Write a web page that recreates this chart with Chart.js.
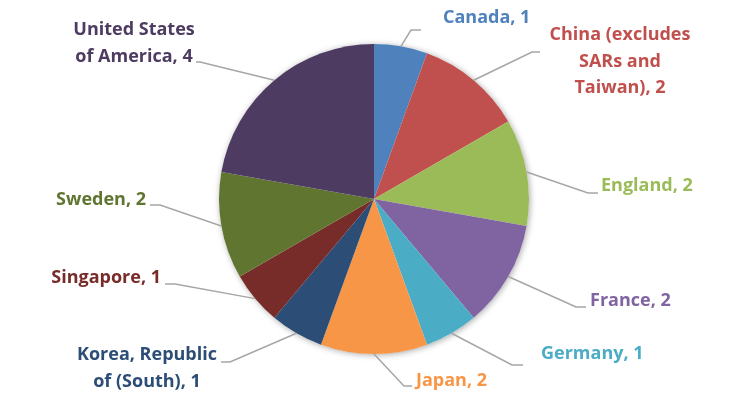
<!DOCTYPE html>
<html>
<head>
<meta charset="utf-8">
<script src="https://cdn.jsdelivr.net/npm/chart.js@4"></script>
<style>
  html, body { margin: 0; padding: 0; background: #fff; }
  #wrap { width: 733px; height: 402px; }
</style>
</head>
<body>
<div id="wrap"><canvas id="pie"></canvas></div>
<script>
// Chart data
const countries = [
  "Canada",
  "China (excludes SARs and Taiwan)",
  "England",
  "France",
  "Germany",
  "Japan",
  "Korea, Republic of (South)",
  "Singapore",
  "Sweden",
  "United States of America",
];
const counts = [1, 2, 2, 2, 1, 2, 1, 1, 2, 4];
const sliceColors = [
  "#4F81BD", "#C0504D", "#9BBB59", "#8064A2", "#4BACC6",
  "#F79646", "#2C4D75", "#772C2A", "#5F7530", "#4D3B62",
];

// Label placement: text lines, text anchor, leader elbow and leader end
const labelLayout = [
  { lines: ["Canada, 1"], x: 443, y: 18, align: "left", elbow: [411, 30], end: [421, 30] },
  { lines: ["China (excludes", "SARs and", "Taiwan), 2"], x: 620, y: 35, align: "center", elbow: [532, 52], end: [540, 52] },
  { lines: ["England, 2"], x: 601, y: 186, align: "left", elbow: [588, 193], end: [598, 193] },
  { lines: ["France, 2"], x: 590, y: 301, align: "left", elbow: [576, 307], end: [586, 307] },
  { lines: ["Germany, 1"], x: 541, y: 354, align: "left", elbow: [512, 365], end: [523, 365] },
  { lines: ["Japan, 2"], x: 416, y: 381, align: "left", elbow: [404, 386], end: [412, 386] },
  { lines: ["Korea, Republic", "of (South), 1"], x: 147, y: 355, align: "center", elbow: [230, 362], end: [221, 362] },
  { lines: ["Singapore, 1"], x: 161, y: 278, align: "right", elbow: [175, 284], end: [165, 284] },
  { lines: ["Sweden, 2"], x: 146, y: 200, align: "right", elbow: [160, 205], end: [150, 205] },
  { lines: ["United States", "of America, 4"], x: 134, y: 30, align: "center", elbow: [200, 62], end: [196, 62] },
];

// soft shadow behind the pie
const pieShadow = {
  id: "pieShadow",
  beforeDatasetsDraw(chart) {
    const arc = chart.getDatasetMeta(0).data[0];
    if (!arc) return;
    const { x, y, outerRadius } = arc.getProps(["x", "y", "outerRadius"], true);
    const ctx = chart.ctx;
    ctx.save();
    ctx.shadowColor = "rgba(0,0,0,0.35)";
    ctx.shadowBlur = 6;
    ctx.shadowOffsetX = 1;
    ctx.shadowOffsetY = 1;
    ctx.fillStyle = "#fff";
    ctx.beginPath();
    ctx.arc(x, y, outerRadius, 0, Math.PI * 2);
    ctx.fill();
    ctx.restore();
  },
};

// leader lines and data labels
const leaderLabels = {
  id: "leaderLabels",
  afterDraw(chart) {
    const ctx = chart.ctx;
    const meta = chart.getDatasetMeta(0);
    ctx.save();
    meta.data.forEach((arc, i) => {
      const p = arc.getProps(["x", "y", "startAngle", "endAngle", "outerRadius"], true);
      const mid = (p.startAngle + p.endAngle) / 2;
      const ex = p.x + Math.cos(mid) * p.outerRadius;
      const ey = p.y + Math.sin(mid) * p.outerRadius;
      const lab = labelLayout[i];

      ctx.strokeStyle = "#A6A6A6";
      ctx.lineWidth = 1.5;
      ctx.beginPath();
      ctx.moveTo(ex, ey);
      ctx.lineTo(lab.elbow[0], lab.elbow[1]);
      ctx.lineTo(lab.end[0], lab.end[1]);
      ctx.stroke();

      ctx.fillStyle = sliceColors[i];
      ctx.font = "bold 18px 'Open Sans'";
      ctx.textAlign = lab.align;
      ctx.textBaseline = "middle";
      lab.lines.forEach((line, j) => {
        ctx.fillText(line, lab.x, lab.y + j * 26.5);
      });
    });
    ctx.restore();
  },
};

document.addEventListener("DOMContentLoaded", () => {
  new Chart(document.getElementById("pie"), {
    type: "pie",
    data: {
      labels: countries,
      datasets: [
        {
          data: counts,
          backgroundColor: sliceColors,
          borderWidth: 0,
        },
      ],
    },
    options: {
      responsive: true,
      maintainAspectRatio: false,
      animation: false,
      layout: { padding: { top: 44, bottom: 48, left: 100, right: 85 } },
      plugins: {
        legend: { display: false },
        tooltip: { enabled: false },
      },
    },
    plugins: [pieShadow, leaderLabels],
  });
});
</script>
</body>
</html>
